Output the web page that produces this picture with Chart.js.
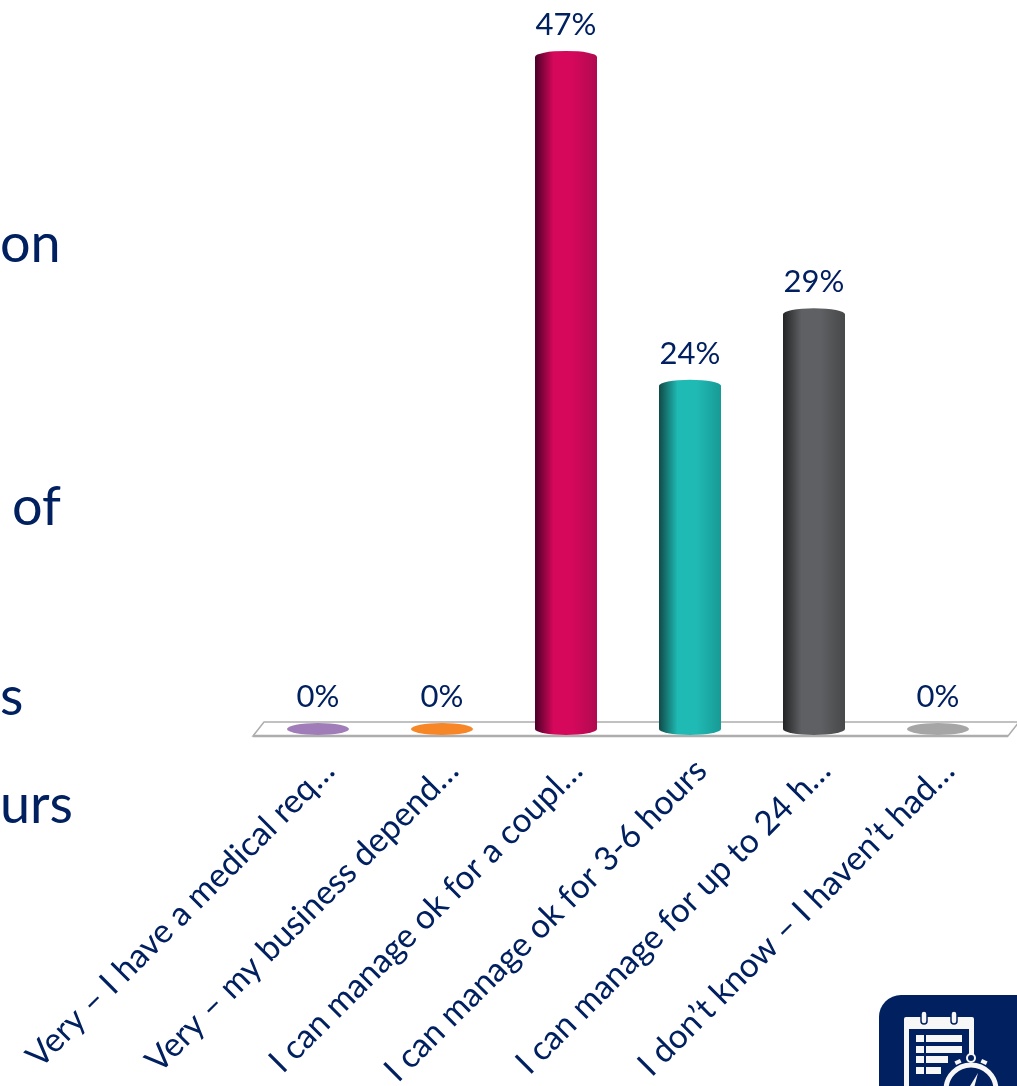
<!DOCTYPE html>
<html>
<head>
<meta charset="utf-8">
<title>Response chart</title>
<script src="https://cdn.jsdelivr.net/npm/chart.js@4/dist/chart.umd.min.js"></script>
<style>
  html, body { margin: 0; padding: 0; background: #fff; overflow: hidden; }
  #wrap { position: relative; width: 1017px; height: 1086px; overflow: hidden; }
  canvas { position: absolute; left: 0; top: 0; }
  .side { position: absolute; color: #002060; font: 54px Lato, sans-serif; line-height: 1; white-space: nowrap; }
  #badge { position: absolute; left: 879px; top: 995px; }
</style>
</head>
<body>
<div id="wrap">
  <canvas id="pollChart" width="1017" height="1086"></canvas>
  <div class="side" style="left:0;top:215px">on</div>
  <div class="side" style="left:12px;top:478px">of</div>
  <div class="side" style="left:0;top:668px">s</div>
  <div class="side" style="left:0;top:776px">urs</div>
  <svg id="badge" width="138" height="91" viewBox="879 995 138 91">
    <rect x="879" y="995" width="160" height="120" rx="22" fill="#002060"/>
    <rect x="904" y="1017" width="70" height="90" rx="2" fill="#f7f7f7"/>
    <rect x="909" y="1029" width="60" height="70" fill="#002060"/>
    <rect x="921" y="1011" width="6" height="13" rx="3" fill="#f7f7f7" stroke="#002060" stroke-width="1.5"/>
    <rect x="951" y="1011" width="6" height="13" rx="3" fill="#f7f7f7" stroke="#002060" stroke-width="1.5"/>
    <g fill="#f7f7f7">
      <rect x="916" y="1035" width="8" height="7"/><rect x="926" y="1035" width="36" height="7"/>
      <rect x="916" y="1046" width="8" height="7"/><rect x="926" y="1046" width="36" height="7"/>
      <rect x="916" y="1056" width="8" height="7"/><rect x="926" y="1056" width="22" height="7"/>
      <rect x="916" y="1067" width="8" height="7"/><rect x="926" y="1067" width="15" height="7"/>
    </g>
    <circle cx="971" cy="1090" r="32" fill="#002060"/>
    <circle cx="971" cy="1090" r="25" fill="#002060" stroke="#f7f7f7" stroke-width="5"/>
    <circle cx="971" cy="1058" r="4" fill="#002060" stroke="#f7f7f7" stroke-width="2"/>
    <rect x="955" y="1060" width="6" height="4" fill="#f7f7f7" transform="rotate(-25 958 1062)"/>
    <rect x="981" y="1060" width="6" height="4" fill="#f7f7f7" transform="rotate(25 984 1062)"/>
    <path d="M970 1086 L978 1073 L974 1088 Z" fill="#f7f7f7"/>
  </svg>
</div>
<script>
// Poll answers and share of votes, in percent
const categories = [
  "Very – I have a medical req…",
  "Very – my business depend…",
  "I can manage ok for a coupl…",
  "I can manage ok for 3-6 hours",
  "I can manage for up to 24 h…",
  "I don’t know – I haven’t had…"
];
const votes = [0, 0, 47, 24, 29, 0];

// Cylinder shading per bar: shadow edge, highlight, far edge
const barDark = ["#6e5283", "#a85a18", "#4a0028", "#0f4a48", "#232425", "#777777"];
const barLight = ["#a07cb8", "#f68626", "#d6085c", "#20bab4", "#5f6063", "#a6a6a6"];
const barEdge = ["#8f6ea6", "#e07a20", "#b00a50", "#189a96", "#474849", "#999999"];

const textColor = "#002060";
const capHeight = 6;

function cylinderFill(ctx, i, left, right) {
  const g = ctx.createLinearGradient(left, 0, right, 0);
  g.addColorStop(0, barDark[i]);
  g.addColorStop(0.3, barLight[i]);
  g.addColorStop(0.6, barLight[i]);
  g.addColorStop(1, barEdge[i]);
  return g;
}

// Floor strip under the bars, drawn first so the bars stand on it
const floorPlugin = {
  id: "floor",
  beforeDatasetsDraw(chart) {
    const { ctx, scales: { x, y } } = chart;
    const base = y.getPixelForValue(0);
    ctx.save();
    ctx.beginPath();
    ctx.moveTo(x.left - 3, base + 7);
    ctx.lineTo(x.left + 8, base - 7);
    ctx.lineTo(x.right + 19, base - 7);
    ctx.lineTo(x.right + 8, base + 7);
    ctx.closePath();
    ctx.strokeStyle = "#adadad";
    ctx.lineWidth = 1.5;
    ctx.stroke();
    ctx.beginPath();
    ctx.moveTo(x.left - 3, base + 7);
    ctx.lineTo(x.right + 8, base + 7);
    ctx.lineWidth = 2.5;
    ctx.stroke();
    ctx.restore();
  }
};

// Rounded caps on both ends of each bar, plus the percent labels
const cylinderPlugin = {
  id: "cylinder",
  afterDatasetsDraw(chart) {
    const { ctx } = chart;
    chart.getDatasetMeta(0).data.forEach((bar, i) => {
      const left = bar.x - bar.width / 2;
      const right = bar.x + bar.width / 2;
      ctx.save();
      ctx.fillStyle = votes[i] === 0 ? barLight[i] : cylinderFill(ctx, i, left, right);
      ctx.beginPath();
      ctx.ellipse(bar.x, bar.base, bar.width / 2, capHeight, 0, 0, Math.PI * 2);
      ctx.fill();
      if (votes[i] !== 0) {
        ctx.beginPath();
        ctx.ellipse(bar.x, bar.y, bar.width / 2, capHeight, 0, 0, Math.PI * 2);
        ctx.fill();
      }
      ctx.fillStyle = textColor;
      ctx.font = "31px Lato, sans-serif";
      ctx.textAlign = "center";
      ctx.textBaseline = "alphabetic";
      ctx.fillText(votes[i] + "%", bar.x, bar.y - 22);
      ctx.restore();
    });
  }
};

new Chart(document.getElementById("pollChart"), {
  type: "bar",
  data: {
    labels: categories,
    datasets: [{
      data: votes,
      barPercentage: 0.5,
      categoryPercentage: 1,
      backgroundColor(context) {
        const { chart, dataIndex } = context;
        if (!chart.chartArea) return barLight[dataIndex];
        const x = chart.scales.x;
        const mid = x.getPixelForValue(dataIndex);
        const half = (x.width / categories.length) * 0.25;
        return cylinderFill(chart.ctx, dataIndex, mid - half, mid + half);
      }
    }]
  },
  options: {
    responsive: false,
    animation: false,
    layout: { padding: { top: 14, right: 17 } },
    plugins: { legend: { display: false }, tooltip: { enabled: false } },
    scales: {
      x: {
        grid: { display: false },
        border: { display: false },
        // long slanted labels must not squeeze the bars
        afterFit(scale) {
          scale.height = 357;
          scale.paddingLeft = 0;
          scale.paddingRight = 0;
        },
        ticks: {
          autoSkip: false,
          minRotation: 45,
          maxRotation: 45,
          padding: 14,
          labelOffset: 11,
          color: textColor,
          font: { family: "Lato, sans-serif", size: 33.5 }
        }
      },
      y: {
        min: 0,
        max: 50,
        grid: { display: false },
        border: { display: false },
        ticks: { display: false },
        afterFit(scale) { scale.width = 256; }
      }
    }
  },
  plugins: [floorPlugin, cylinderPlugin]
});
</script>
</body>
</html>
